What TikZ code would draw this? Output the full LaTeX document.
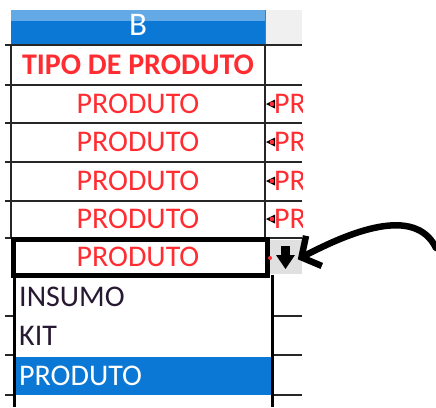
\documentclass[tikz,border=0pt]{standalone}
\usepackage{fontspec}
\setmainfont{Carlito}
\usetikzlibrary{positioning}
\usetikzlibrary{arrows.meta}
\definecolor{xlblue}{RGB}{10,120,212}
\definecolor{xllight}{RGB}{98,169,229}
\definecolor{xlred}{RGB}{255,45,50}
\definecolor{xlgrey}{RGB}{224,224,224}
\definecolor{xldark}{RGB}{40,25,50}

\begin{document}
\begin{tikzpicture}[x=1pt, y=-1pt,
		gridline/.style={draw=black!85, line width=1.8pt},
		celltext/.style={
			text=xlred,
			font=\fontsize{30}{30}\selectfont,
			inner sep=0pt
		},
		listtext/.style={
			text=xldark,
			font=\fontsize{30}{30}\selectfont,
			inner sep=0pt,
			anchor=west
		},
		pointer/.style={
			draw=black,
			line width=6.5pt,
			line cap=round,
			-{Straight Barb[length=14pt, width=34pt]}
		}]
		\useasboundingbox (0,0) rectangle (436,407);
		
		% column header
		\fill[xlblue] (11,10) rectangle (265,45);
		\fill[xllight] (11,10) rectangle (265,21);
		\fill[black!6] (265,10) rectangle (302,45);
		\draw[black!55, line width=1pt] (265,10) -- (265,45);
		\node[text=white, font=\fontsize{33}{33}\selectfont, inner sep=0pt] (colB) at (138,25) {B};
		
		% grid
		\foreach \y in {45,85,123,162,201,238}
			\draw[gridline] (5,\y) -- (302,\y);
		\draw[gridline] (11,45) -- (11,238);
		\draw[gridline] (265,45) -- (265,238);
		
		\node[celltext, font=\fontsize{30}{30}\selectfont\bfseries] (title) at (138,65) {TIPO DE PRODUTO};
		\foreach \y/\n in {104/1, 142/2, 181/3, 219/4}{
			\node[celltext] (prod\n) at (138,\y) {PRODUTO};
			\fill (266,\y) -- (275,\y-4.5) -- (275,\y+4.5) -- cycle;
			\fill[xlred] (272,\y) circle (2.3);
		}
		
		% next column, cut off
		\begin{scope}
			\clip (275,85) rectangle (302,238);
			\foreach \y in {104,142,181,219}
				\node[celltext, anchor=west] at (274,\y) {PRODUTO};
		\end{scope}
		
		% selected cell
		\draw[line width=5pt] (13,239) rectangle (267,275);
		\node[celltext] (prod5) at (138,257) {PRODUTO};
		
		% dropdown button
		\node[fill=xlgrey, minimum width=32pt, minimum height=34pt, inner sep=0pt] (dropbtn) at (286,257) {};
		\fill (281,246) rectangle (290,256);
		\fill (276,255) -- (295,255) -- (285.5,269) -- cycle;
		\fill[xlred] (270,258) circle (2);
		
		% dropdown list
		\foreach \y in {316,355,395}{
			\draw[gridline] (5,\y) -- (13,\y);
			\draw[gridline] (272,\y) -- (302,\y);
		}
		\fill[xlblue] (15,357) rectangle (271,395);
		\draw[line width=3pt] (14,275) -- (14,407);
		\draw[line width=3pt] (272,275) -- (272,407);
		\node[listtext] (insumo) at (19,297) {INSUMO};
		\node[listtext] (kit) at (19,336) {KIT};
		\node[listtext, text=white] (produto) at (19,376) {PRODUTO};
		
		% pointer
		\coordinate (tail) at (436,248);
		\draw[pointer, shorten >=-5pt]
			(tail) .. controls (415,205) and (350,232) .. (dropbtn.east);
	\end{tikzpicture}
\end{document}
